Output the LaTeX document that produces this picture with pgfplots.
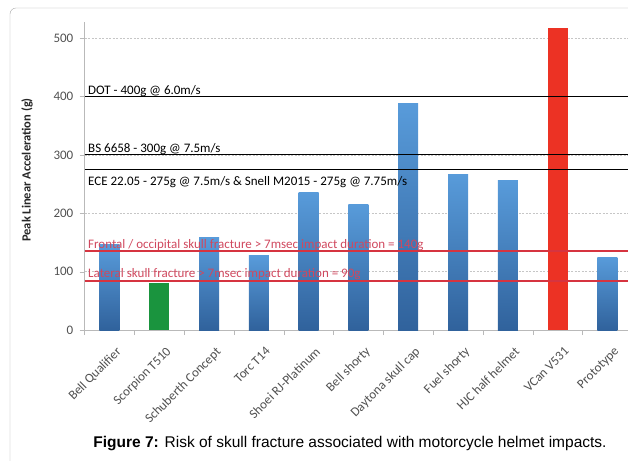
\documentclass[border=0pt]{standalone}
\usepackage{pgfplots}
\pgfplotsset{compat=1.18}
\usepackage{fontspec}
\setmainfont{Carlito}
\newfontfamily\arial{Liberation Sans}
\definecolor{blueT}{RGB}{88,155,218}
\definecolor{blueB}{RGB}{48,98,156}
\definecolor{bargreen}{RGB}{26,148,62}
\definecolor{barred}{RGB}{236,50,36}
\definecolor{fracline}{RGB}{214,52,64}
\definecolor{fractext}{RGB}{208,72,94}
\definecolor{ticktext}{RGB}{80,80,80}
\definecolor{framegray}{RGB}{165,165,165}
\newcommand{\lbl}{\fontsize{13}{15}\selectfont}
\pgfplotsset{
    helmetbar/.style={ybar, bar width=20pt, bar shift=0pt, draw=none},
    bluebar/.style={helmetbar, top color=blueT, bottom color=blueB},
}

\begin{document}
\begin{tikzpicture}[x=1pt,y=1pt]
\path[use as bounding box] (0,0) rectangle (628,460);
\draw[framegray, rounded corners=6pt] (10,452) rectangle (680,-30);

\begin{axis}[
    at={(84.5pt,130pt)}, anchor=south west,
    width=547.8pt, height=307.5pt, scale only axis,
    xmin=-0.5, xmax=10.5, ymin=0, ymax=527,
    axis x line*=bottom, axis y line*=left,
    axis line style={draw=gray!55, -},
    xtick={0,...,10},
    xticklabels={Bell Qualifier, Scorpion T510, Schuberth Concept, Torc T14,
        Shoei RJ-Platinum, Bell shorty, Daytona skull cap, Fuel shorty,
        HJC half helmet, VCan V531, Prototype},
    minor xtick={-0.5,0.5,...,10.5},
    major x tick style={draw=none},
    minor x tick style={draw=gray!55},
    ytick={0,100,...,500},
    y tick style={draw=gray!55},
    tick align=outside,
    major tick length=5pt, minor tick length=5pt,
    ymajorgrids,
    major grid style={draw=gray!45, dash pattern=on 2pt off 1.5pt},
    /pgf/number format/assume math mode=true,
    yticklabel style={font=\lbl, text=ticktext, inner sep=0pt, xshift=-6pt},
    xticklabel style={font=\lbl, text=ticktext, anchor=north east,
        inner sep=0pt, xshift=6pt, yshift=-11pt, rotate=45},
]

% each blue bar on its own so that each gets its own gradient
\addplot[bluebar] coordinates {(0,146)};
\addplot[helmetbar, fill=bargreen] coordinates {(1,80)};
\addplot[bluebar] coordinates {(2,158)};
\addplot[bluebar] coordinates {(3,127)};
\addplot[bluebar] coordinates {(4,236)};
\addplot[bluebar] coordinates {(5,215)};
\addplot[bluebar] coordinates {(6,388)};
\addplot[bluebar] coordinates {(7,267)};
\addplot[bluebar] coordinates {(8,256)};
\addplot[helmetbar, fill=barred] coordinates {(9,518)};
\addplot[bluebar] coordinates {(10,125)};

% standards
\addplot[color=black, line width=0.9pt] coordinates {(-0.5,400) (10.5,400)};
\addplot[color=black, line width=0.9pt] coordinates {(-0.5,300) (10.5,300)};
\addplot[color=black, line width=0.9pt] coordinates {(-0.5,275) (10.5,275)};
% fracture thresholds
\addplot[color=fracline, line width=1.7pt] coordinates {(-0.5,84) (10.5,84)};
\addplot[color=fracline, line width=1.7pt] coordinates {(-0.5,135.3) (10.5,135.3)};

\node[anchor=base west, inner sep=0pt, font=\lbl, yshift=2pt]
    at (axis cs:-0.43,400) {DOT - 400g @ 6.0m/s};
\node[anchor=base west, inner sep=0pt, font=\lbl, yshift=2pt]
    at (axis cs:-0.43,300) {BS 6658 - 300g @ 7.5m/s};
\node[anchor=base west, inner sep=0pt, font=\lbl, yshift=-16pt]
    at (axis cs:-0.43,275) {ECE 22.05 - 275g @ 7.5m/s \& Snell M2015 - 275g @ 7.75m/s};
\node[anchor=base west, inner sep=0pt, font=\lbl, text=fractext, yshift=3pt]
    at (axis cs:-0.43,135.3) {Frontal / occipital skull fracture > 7msec impact duration = 140g};
\node[anchor=base west, inner sep=0pt, font=\lbl, text=fractext, yshift=3pt]
    at (axis cs:-0.43,84) {Lateral skull fracture > 7msec impact duration = 90g};
\end{axis}

\node[rotate=90, font=\fontsize{12.5}{15}\selectfont\bfseries, text=black!85]
    at (27,290) {Peak Linear Acceleration (g)};
\node[anchor=base, font=\arial\fontsize{15.5}{18}\selectfont] at (350,13)
    {\textbf{Figure 7:} Risk of skull fracture associated with motorcycle helmet impacts.};
\end{tikzpicture}
\end{document}
